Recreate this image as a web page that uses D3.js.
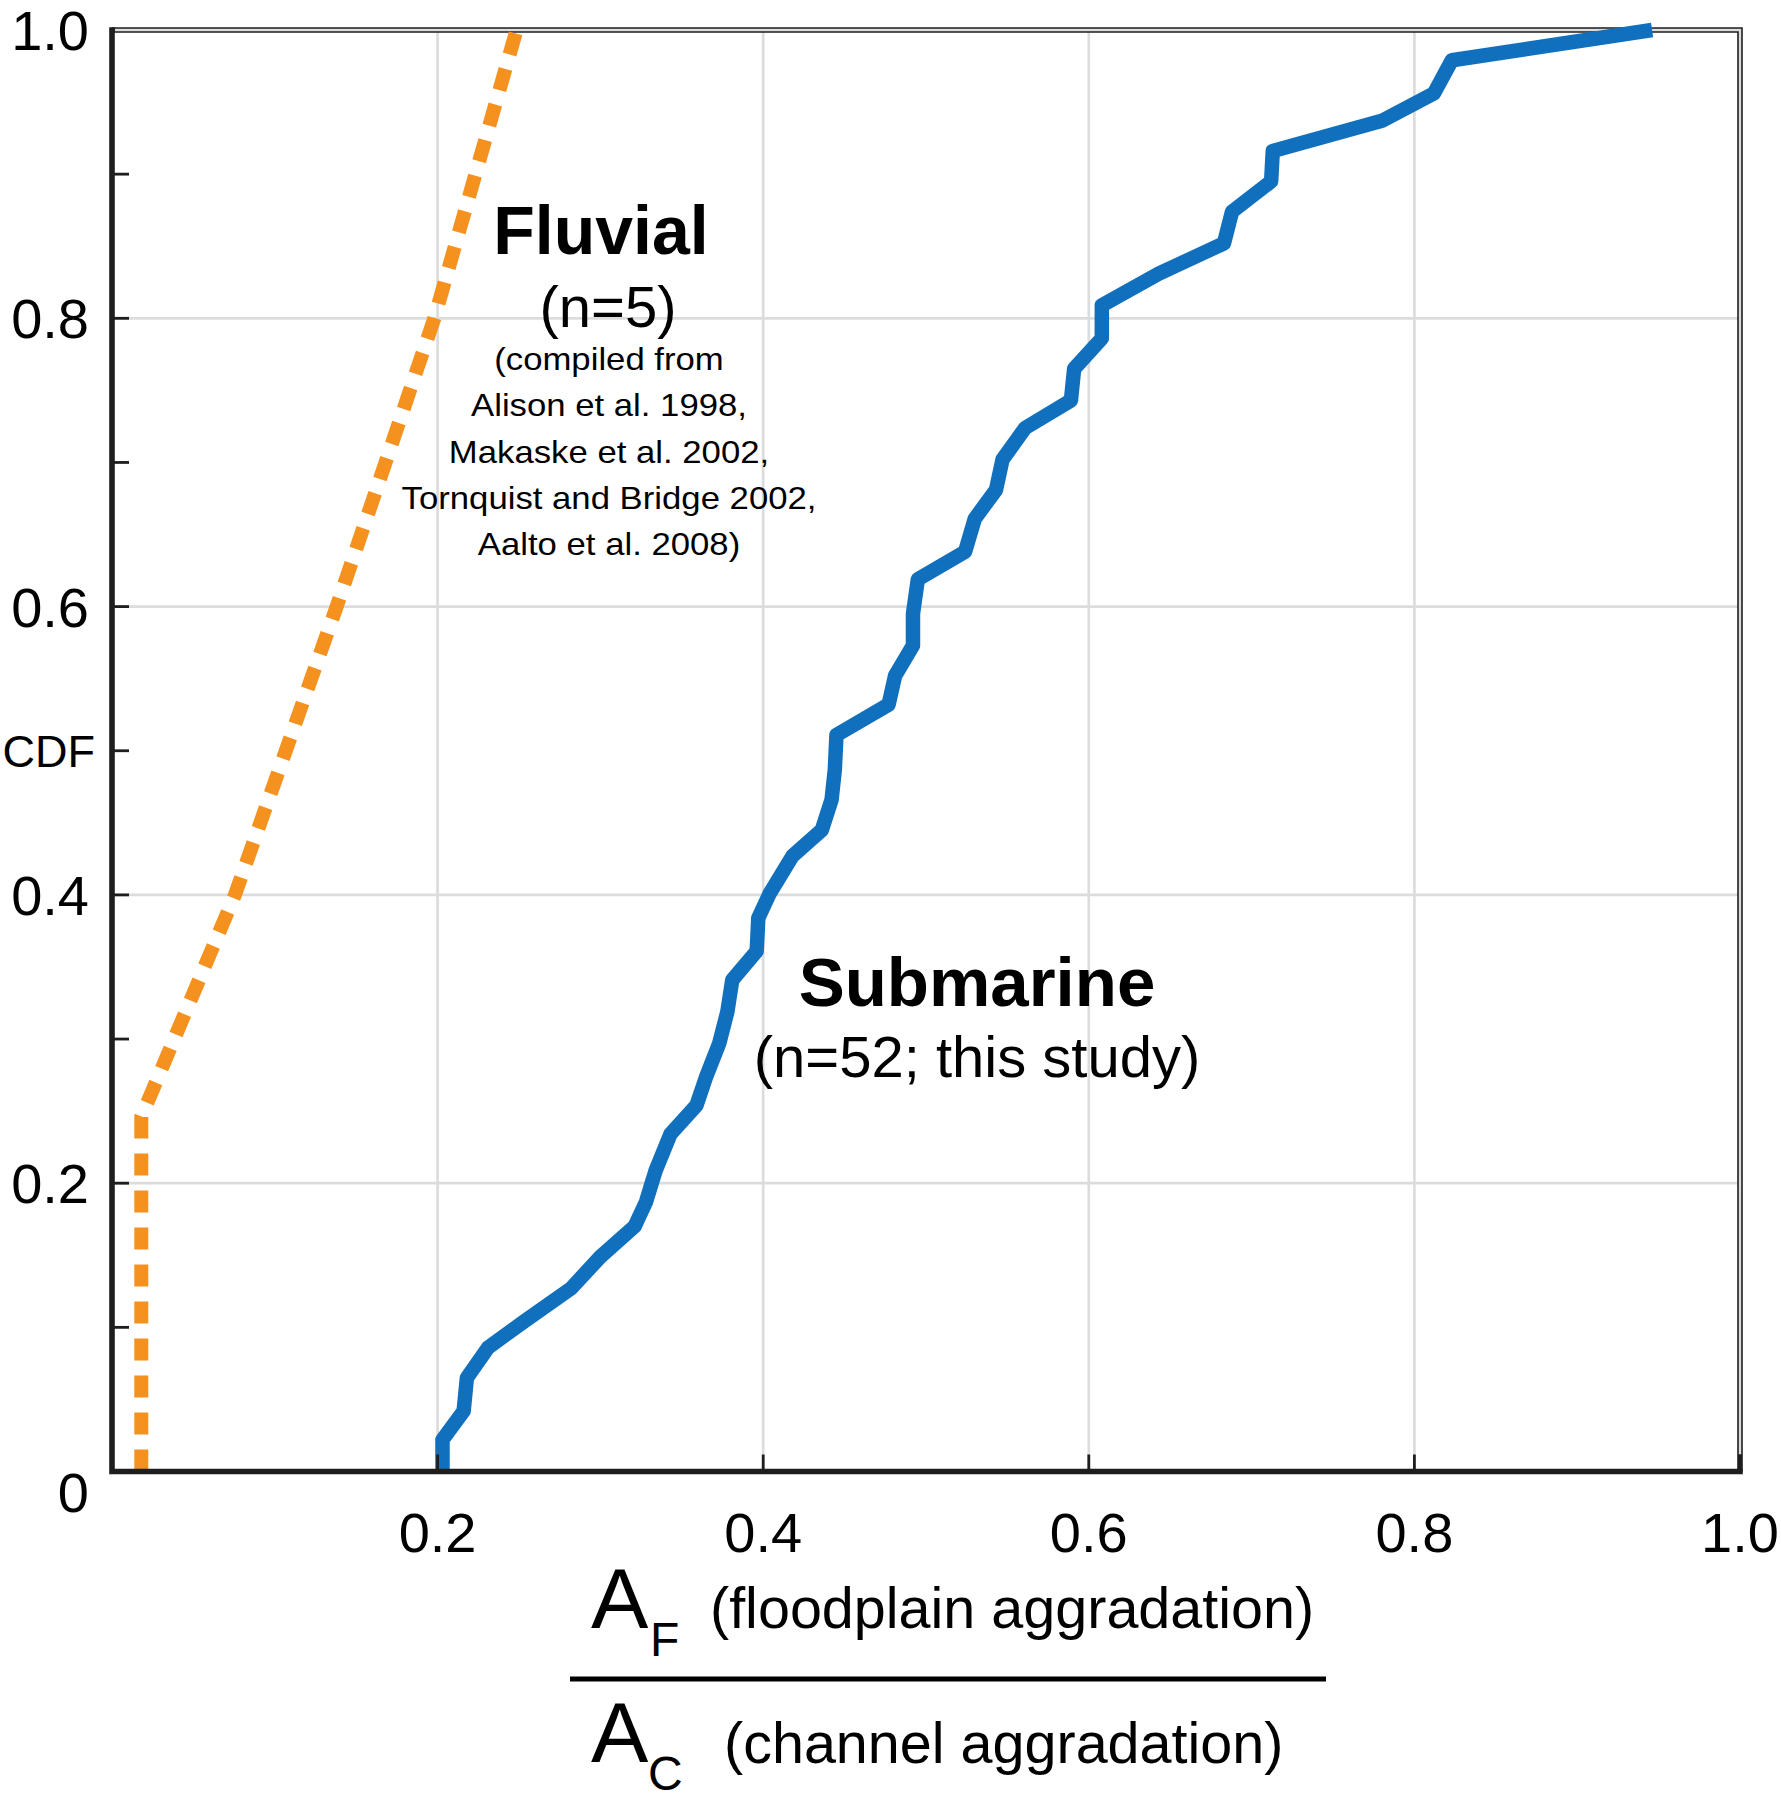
<!DOCTYPE html>
<html>
<head>
<meta charset="utf-8">
<script src="https://cdn.jsdelivr.net/npm/d3@7"></script>
<style>
  body { margin: 0; background: #fff; }
  svg { display: block; font-family: "Liberation Sans", Arial, Helvetica, sans-serif; }
</style>
</head>
<body>
<div id="chart"></div>
<script>
// 数据：海底 (n=52) 与河流 (n=5) 的 AF/AC 累积分布
const submarineAF = [0.203, 0.203, 0.216, 0.218, 0.231, 0.253, 0.282, 0.300, 0.321, 0.328,
  0.334, 0.343, 0.359, 0.365, 0.373, 0.378, 0.381, 0.396, 0.397, 0.404,
  0.418, 0.436, 0.442, 0.444, 0.445, 0.477, 0.481, 0.492, 0.492, 0.495,
  0.524, 0.530, 0.543, 0.547, 0.561, 0.589, 0.591, 0.608, 0.608, 0.643,
  0.683, 0.688, 0.712, 0.713, 0.780, 0.812, 0.823, 0.946];
const submarineCDF = [0, 0.022, 0.042, 0.065, 0.086, 0.104, 0.127, 0.149, 0.170, 0.187,
  0.209, 0.234, 0.254, 0.274, 0.297, 0.319, 0.341, 0.361, 0.384, 0.401,
  0.427, 0.445, 0.466, 0.487, 0.511, 0.532, 0.552, 0.573, 0.595, 0.619,
  0.638, 0.661, 0.681, 0.702, 0.724, 0.743, 0.765, 0.786, 0.809, 0.831,
  0.852, 0.874, 0.895, 0.916, 0.937, 0.956, 0.979, 1.0];

const fluvialAF = [0.018, 0.018, 0.0755, 0.138, 0.198, 0.2485];
const fluvialCDF = [0, 0.246, 0.4, 0.6, 0.8, 1.0];

const gridValues = [0.2, 0.4, 0.6, 0.8, 1.0];
const yTickValues = [0.1, 0.2, 0.3, 0.4, 0.5, 0.6, 0.7, 0.8, 0.9];
const yTickLabels = ['0', '0.2', '0.4', '0.6', '0.8', '1.0'];
const xTickLabels = ['0.2', '0.4', '0.6', '0.8', '1.0'];

const fluvialNotes = ['(compiled from', 'Alison et al. 1998,', 'Makaske et al. 2002,',
  'Tornquist and Bridge 2002,', 'Aalto et al. 2008)'];

const W = 1781, H = 1811;
const BLUE = '#1170bd', ORANGE = '#f5921f', GRID = '#dcdcdc', AXIS = '#1e1e1e';

const svg = d3.select('#chart').append('svg')
  .attr('width', W).attr('height', H)
  .attr('viewBox', `0 0 ${W} ${H}`);

const x = d3.scaleLinear().domain([0, 1]).range([112, 1740]);
const y = d3.scaleLinear().domain([0, 1]).range([1471.5, 30]);

// 网格线
svg.append('g').selectAll('line.gx').data(gridValues).enter().append('line')
  .attr('x1', d => x(d)).attr('x2', d => x(d))
  .attr('y1', y(0)).attr('y2', y(1))
  .attr('stroke', GRID).attr('stroke-width', 2.7);
svg.append('g').selectAll('line.gy').data(gridValues).enter().append('line')
  .attr('x1', x(0)).attr('x2', x(1))
  .attr('y1', d => y(d)).attr('y2', d => y(d))
  .attr('stroke', GRID).attr('stroke-width', 2.7);

// 上、右边框（深色外框 + 浅灰网格线覆盖）
svg.append('path')
  .attr('d', `M${x(0)},${y(1)}H${x(1)}V${y(0)}`)
  .attr('fill', 'none').attr('stroke', AXIS).attr('stroke-width', 5.6);
svg.append('path')
  .attr('d', `M${x(0) + 3},${y(1)}H${x(1)}V${y(0) - 17}`)
  .attr('fill', 'none').attr('stroke', GRID).attr('stroke-width', 2.4);

// 数据曲线
const line = d3.line().x(d => x(d[0])).y(d => y(d[1]));

svg.append('path')
  .datum(fluvialAF.map((v, i) => [v, fluvialCDF[i]]))
  .attr('d', line)
  .attr('fill', 'none')
  .attr('stroke', ORANGE)
  .attr('stroke-width', 14)
  .attr('stroke-dasharray', '22 15')
  .attr('stroke-linejoin', 'miter');

svg.append('path')
  .datum(submarineAF.map((v, i) => [v, submarineCDF[i]]))
  .attr('d', line)
  .attr('fill', 'none')
  .attr('stroke', BLUE)
  .attr('stroke-width', 14.5)
  .attr('stroke-linejoin', 'round');

// 左、下坐标轴
svg.append('path')
  .attr('d', `M${x(0)},${y(1) - 2.8}V${y(0)}H${x(1) + 2.8}`)
  .attr('fill', 'none').attr('stroke', AXIS).attr('stroke-width', 5.6);

// 刻度
svg.append('g').selectAll('line').data(yTickValues).enter().append('line')
  .attr('x1', x(0)).attr('x2', x(0) + 17)
  .attr('y1', d => y(d)).attr('y2', d => y(d))
  .attr('stroke', AXIS).attr('stroke-width', 2.8);
svg.append('g').selectAll('line').data(gridValues).enter().append('line')
  .attr('x1', d => x(d)).attr('x2', d => x(d))
  .attr('y1', y(0)).attr('y2', y(0) - 17)
  .attr('stroke', AXIS).attr('stroke-width', 2.8);

// 刻度标签
svg.append('g').selectAll('text').data(yTickLabels).enter().append('text')
  .attr('x', 89)
  .attr('y', d => y(+d) + (d === '0' ? 40.5 : 20))
  .attr('text-anchor', 'end')
  .attr('font-size', 56)
  .text(d => d);

svg.append('text')
  .attr('x', 95).attr('y', y(0.5) + 16.5)
  .attr('text-anchor', 'end')
  .attr('font-size', 45)
  .text('CDF');

svg.append('g').selectAll('text').data(xTickLabels).enter().append('text')
  .attr('x', d => x(+d))
  .attr('y', 1552)
  .attr('text-anchor', 'middle')
  .attr('font-size', 56)
  .text(d => d);

// 注释文字
svg.append('text')
  .attr('x', 601).attr('y', 254)
  .attr('text-anchor', 'middle')
  .attr('font-size', 68).attr('font-weight', 'bold')
  .text('Fluvial');
svg.append('text')
  .attr('x', 608).attr('y', 327)
  .attr('text-anchor', 'middle')
  .attr('font-size', 58)
  .text('(n=5)');
svg.append('g').selectAll('text').data(fluvialNotes).enter().append('text')
  .attr('transform', (d, i) => `translate(609,${370 + i * 46.3}) scale(1.12,1)`)
  .attr('text-anchor', 'middle')
  .attr('font-size', 31)
  .text(d => d);

svg.append('text')
  .attr('x', 977).attr('y', 1006)
  .attr('text-anchor', 'middle')
  .attr('font-size', 69).attr('font-weight', 'bold')
  .text('Submarine');
svg.append('text')
  .attr('x', 977).attr('y', 1077)
  .attr('text-anchor', 'middle')
  .attr('font-size', 58)
  .text('(n=52; this study)');

// x 轴标题（分数形式）
const title = svg.append('g');
title.append('text').attr('x', 591).attr('y', 1628).attr('font-size', 86).text('A');
title.append('text').attr('x', 650).attr('y', 1656).attr('font-size', 48).text('F');
title.append('text').attr('x', 710).attr('y', 1628).attr('font-size', 57.5).text('(floodplain aggradation)');
title.append('line')
  .attr('x1', 570).attr('x2', 1326).attr('y1', 1679).attr('y2', 1679)
  .attr('stroke', '#000').attr('stroke-width', 5);
title.append('text').attr('x', 591).attr('y', 1762).attr('font-size', 86).text('A');
title.append('text').attr('x', 648).attr('y', 1790).attr('font-size', 48).text('C');
title.append('text').attr('x', 724).attr('y', 1763).attr('font-size', 57.5).text('(channel aggradation)');
</script>
</body>
</html>
